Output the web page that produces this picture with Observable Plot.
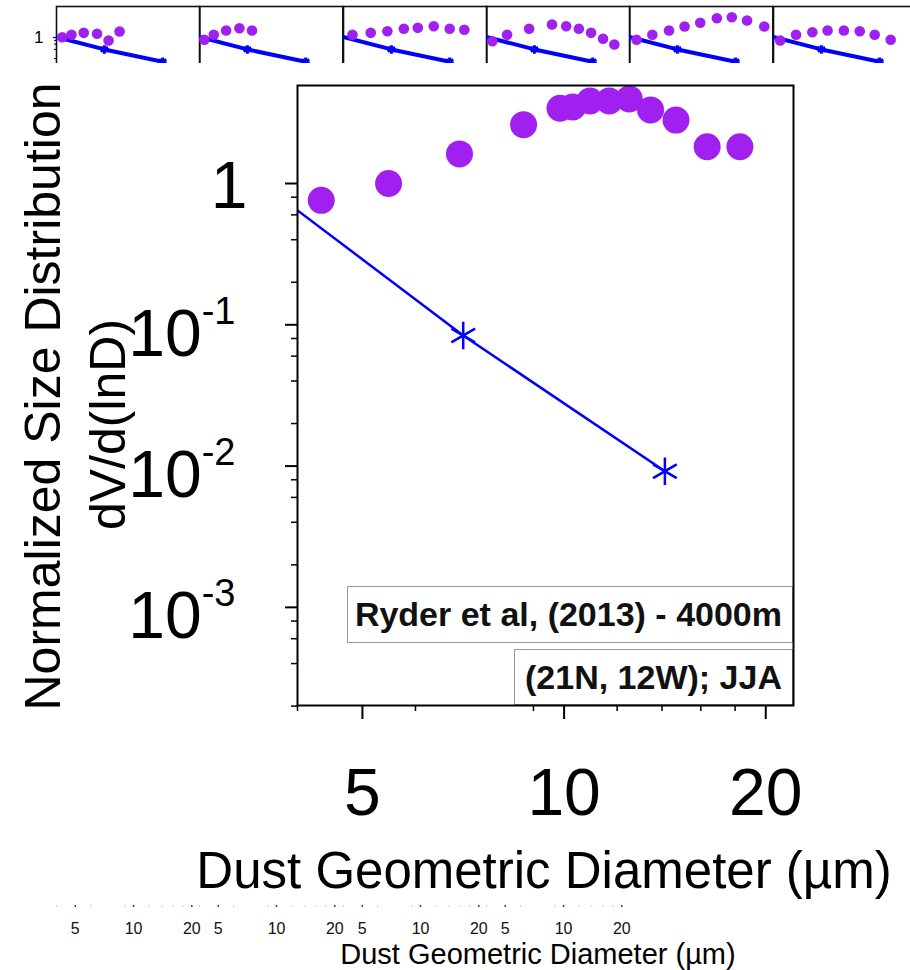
<!DOCTYPE html>
<html>
<head>
<meta charset="utf-8">
<script src="https://cdn.jsdelivr.net/npm/d3@7"></script>
<script src="https://cdn.jsdelivr.net/npm/@observablehq/plot@0.6"></script>
<style>
  html, body { margin: 0; padding: 0; background: #fff; }
  #root { position: relative; width: 910px; height: 970px; overflow: hidden; background: #fff; font-family: "Liberation Sans", Arial, Helvetica, sans-serif; }
  #strip { position: absolute; left: 0; top: 0; width: 910px; height: 63px; overflow: hidden; }
  svg { max-width: none !important; }
  .box { position: absolute; border: 1.5px solid #999; box-sizing: border-box; display: flex; align-items: center; justify-content: flex-end; padding-right: 10px; font-weight: bold; font-size: 34px; color: #111; white-space: nowrap; }
</style>
</head>
<body>
<div id="root">
  <div id="strip"></div>
  <div class="box" style="left:347px; top:586px; width:446px; height:57px;">Ryder et al, (2013) - 4000m</div>
  <div class="box" style="left:514px; top:649px; width:279px; height:56px;">(21N, 12W); JJA</div>
</div>
<script>
// ---------- Data ----------
// Main panel: observed (purple dots)
const mainDiam = [4.34, 5.47, 6.98, 8.70, 9.86, 10.3, 10.93, 11.68, 12.51, 13.46, 14.69, 16.35, 18.3];
const mainVals = [0.76, 1.0, 1.62, 2.61, 3.41, 3.48, 3.84, 3.84, 3.97, 3.32, 2.81, 1.82, 1.82];
// Main panel: model (blue line with asterisks)
const modelDiam = [3.54, 7.07, 14.14];
const modelVals = [1.0, 0.084, 0.0092];

// Strip of small panels (top row, partially visible)
const stripDiam = [
  [4.28, 4.78, 5.53, 6.48, 7.43, 8.47],
  [4.24, 4.74, 5.49, 6.43, 7.47],
  [4.45, 5.53, 6.74, 8.20, 9.68, 11.70, 14.15, 16.83],
  [4.29, 5.11, 6.64, 8.72, 10.32, 12.0, 13.88, 16.0, 18.3],
  [4.35, 5.25, 6.40, 7.70, 9.28, 11.31, 13.51, 16.19, 19.88],
  [4.33, 5.23, 6.35, 7.61, 9.24, 11.16, 13.33, 16.12]
];
const stripVals = [
  [1.02, 1.23, 1.43, 1.33, 0.79, 1.58],
  [0.84, 1.23, 1.71, 2.04, 1.71],
  [1.23, 1.43, 1.62, 1.95, 2.10, 2.38, 1.95, 1.81],
  [0.75, 1.23, 1.95, 2.71, 2.38, 1.95, 1.43, 0.905, 0.584],
  [0.84, 1.23, 1.71, 2.33, 3.09, 4.39, 4.74, 3.69, 2.33],
  [0.79, 1.23, 1.50, 1.71, 1.71, 1.62, 1.23, 0.84]
];
const stripModelDiam = [3.54, 7.07, 14.14];
const stripModelVals = [1.28, 0.40, 0.155];

// Ticks and labels
const xMajorTicks = [5, 10, 20];
const xMinorTicks = [4, 6, 9, 12, 14, 16, 18];
const yMajorTicks = [1, 0.1, 0.01, 0.001];
const yMinorTicks = [0.8, 0.6, 0.4, 0.2, 0.08, 0.06, 0.04, 0.02, 0.008, 0.006, 0.004, 0.002, 0.0008, 0.0006, 0.0004, 0.0002];
const stripYTicks = [1];
const stripYMinor = [0.8, 0.6, 0.4, 0.2, 0.08, 0.06, 0.04];
const xTitle = "Dust Geometric Diameter (\u00b5m)";
const yTitle1 = "Normalized Size Distribution";
const yTitle2 = "dV/d(lnD)";

const PURPLE = "#a020f0";
const BLUE = "#0000ff";
const FONT = "Liberation Sans, Arial, Helvetica, sans-serif";
const NS = "http://www.w3.org/2000/svg";

const root = document.getElementById("root");
const strip = document.getElementById("strip");

// ---------- Top strip of small panels ----------
const PW = 143.33;
for (let i = 0; i < 6; i++) {
  const ml = i === 0 ? 56 : 0;
  const dots = stripDiam[i].map((d, k) => ({d, v: stripVals[i][k]}));
  const model = stripModelDiam.map((d, k) => ({d, v: stripModelVals[k]}));
  const marks = [
    Plot.frame({stroke: "#111", strokeWidth: 1.6}),
    Plot.line(model, {x: "d", y: "v", stroke: BLUE, strokeWidth: 4, clip: true}),
    Plot.dot(model, {x: "d", y: "v", symbol: "asterisk", r: 4, stroke: BLUE, strokeWidth: 3, clip: true}),
    Plot.dot(dots, {x: "d", y: "v", r: 5.3, fill: PURPLE})
  ];
  if (i === 0) {
    marks.push(Plot.axisY(stripYTicks, {tickSize: 3, tickPadding: 10, fontSize: 17, tickFormat: d => String(d), label: null, strokeWidth: 1.2}));
    marks.push(Plot.axisY(stripYMinor, {tickSize: 2, tickFormat: () => "", label: null, strokeWidth: 1}));
  }
  const p = Plot.plot({
    width: PW + ml, height: 126,
    marginLeft: ml, marginRight: 0, marginTop: 6, marginBottom: 0,
    style: {background: "transparent", fontFamily: FONT, overflow: "visible"},
    x: {type: "log", domain: [4, 22], axis: null},
    y: {type: "log", domain: [Math.pow(10, -89/30), Math.pow(10, 31/30)], axis: i === 0 ? undefined : null},
    marks
  });
  p.style.position = "absolute";
  p.style.left = (i === 0 ? 0 : 56 + i * PW) + "px";
  p.style.top = "0px";
  strip.appendChild(p);
}

// ---------- Main panel ----------
const obs = mainDiam.map((d, i) => ({d, v: mainVals[i]}));
const mod = modelDiam.map((d, i) => ({d, v: modelVals[i]}));
const yFmt = d => d === 1 ? "1" : "10^" + Math.round(Math.log10(d));

const main = Plot.plot({
  width: 910, height: 837,
  marginTop: 22, marginLeft: 297, marginRight: 117, marginBottom: 195,
  style: {background: "transparent", fontFamily: FONT, color: "#000", overflow: "visible"},
  x: {type: "log", domain: [4, 22]},
  y: {type: "log", domain: [2.02e-4, 4.94]},
  marks: [
    Plot.line(mod, {x: "d", y: "v", stroke: BLUE, strokeWidth: 2.5, clip: true}),
    Plot.dot(mod, {x: "d", y: "v", symbol: "asterisk", r: 13, stroke: BLUE, strokeWidth: 2.5, clip: true}),
    Plot.dot(obs, {x: "d", y: "v", r: 13.5, fill: PURPLE}),
    Plot.frame({stroke: "#000", strokeWidth: 2}),
    Plot.axisX(xMajorTicks, {tickSize: 14, tickPadding: 49, fontSize: 66, tickFormat: d => String(d), label: null, strokeWidth: 2}),
    Plot.axisX(xMinorTicks, {tickSize: 6, tickFormat: () => "", label: null, strokeWidth: 1.5}),
    Plot.axisY(yMajorTicks, {tickSize: 12, tickPadding: 50, fontSize: 66, tickFormat: yFmt, label: null, strokeWidth: 2}),
    Plot.axisY(yMinorTicks, {tickSize: 6, tickFormat: () => "", label: null, strokeWidth: 1.5}),
    Plot.text([xTitle], {text: d => d, frameAnchor: "bottom", dx: -1.5, dy: 182, lineAnchor: "bottom", textAnchor: "middle", fontSize: 51}),
    Plot.text([yTitle1], {text: d => d, frameAnchor: "left", rotate: -90, dx: -238, dy: 1, lineAnchor: "bottom", textAnchor: "middle", fontSize: 50}),
    Plot.text([yTitle2], {text: d => d, frameAnchor: "left", rotate: -90, dx: -173, dy: 29, lineAnchor: "bottom", textAnchor: "middle", fontSize: 50})
  ]
});
// superscript exponents in y tick labels
main.querySelectorAll('g[aria-label="y-axis tick label"] text').forEach(t => {
  const s = t.textContent;
  const m = /^10\^(-?\d+)$/.exec(s);
  if (m) {
    t.textContent = "";
    const a = document.createElementNS(NS, "tspan");
    a.setAttribute("dy", "10"); a.textContent = "10";
    const b = document.createElementNS(NS, "tspan");
    b.setAttribute("dy", "-32"); b.setAttribute("font-size", "38"); b.textContent = m[1];
    t.append(a, b);
  } else if (s === "1") {
    t.setAttribute("dx", "12"); t.setAttribute("dy", "3");
  }
});
main.style.position = "absolute";
main.style.left = "0px";
main.style.top = "63px";
root.appendChild(main);

// ---------- Bottom row axis remnants ----------
for (let i = 0; i < 4; i++) {
  const p = Plot.plot({
    width: PW, height: 50,
    marginLeft: 0, marginRight: 0, marginTop: 10, marginBottom: 38,
    style: {background: "transparent", fontFamily: FONT, overflow: "visible"},
    x: {type: "log", domain: [4, 22], axis: null},
    y: {domain: [0, 1], axis: null},
    marks: [
      Plot.tickX(xMinorTicks, {x: d => d, stroke: "#ccc", strokeWidth: 1}),
      Plot.tickX(xMajorTicks, {x: d => d, stroke: "#444", strokeWidth: 1.5}),
      Plot.text(xMajorTicks, {x: d => d, text: d => String(d), frameAnchor: "bottom", lineAnchor: "top", dy: 15, fontSize: 16, fill: "#111"})
    ]
  });
  p.style.position = "absolute";
  p.style.left = (56 + i * PW) + "px";
  p.style.top = "895px";
  root.appendChild(p);
}
const bt = document.createElementNS(NS, "svg");
bt.setAttribute("width", 910); bt.setAttribute("height", 970);
bt.style.position = "absolute"; bt.style.left = "0px"; bt.style.top = "0px"; bt.style.pointerEvents = "none";
const btText = document.createElementNS(NS, "text");
btText.setAttribute("x", 538); btText.setAttribute("y", 964);
btText.setAttribute("text-anchor", "middle");
btText.setAttribute("font-size", 29);
btText.setAttribute("font-family", FONT);
btText.textContent = xTitle;
bt.appendChild(btText);
root.appendChild(bt);
</script>
</body>
</html>
